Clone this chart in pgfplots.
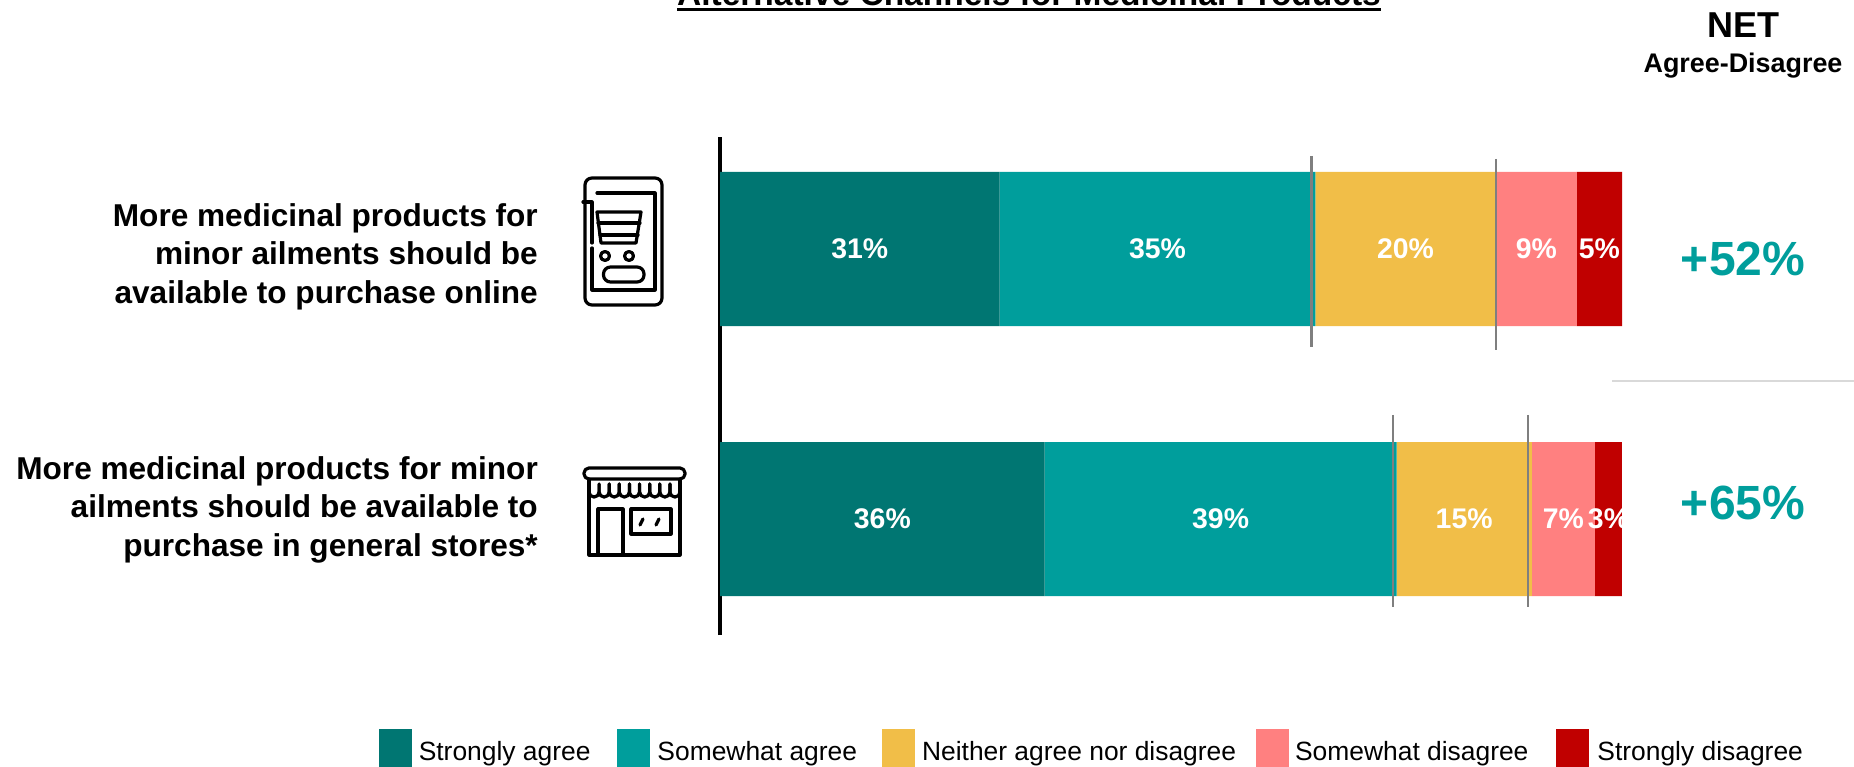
\documentclass[border=0pt]{standalone}
\usepackage{pgfplots}
\pgfplotsset{compat=1.18}
\usepackage{fontspec}
\setmainfont{Liberation Sans}
\definecolor{stronglyagree}{HTML}{007672}
\definecolor{somewhatagree}{HTML}{009E9C}
\definecolor{neither}{HTML}{F1BE48}
\definecolor{somewhatdisagree}{HTML}{FF8080}
\definecolor{stronglydisagree}{HTML}{C00000}
\definecolor{refline}{HTML}{7F7F7F}
\newcommand{\fs}[2]{\fontsize{#1}{#2}\selectfont}
\begin{document}
\begin{tikzpicture}
\path[use as bounding box] (0,0) rectangle (1854pt,766pt);
\clip (0,0) rectangle (1854pt,766pt);
\begin{axis}[
  at={(720pt,131pt)}, anchor=south west,
  scale only axis, width=902pt, height=498pt,
  xbar stacked, bar width=0.5704,
  xmin=0, xmax=100, ymin=-0.4296, ymax=1.4148,
  axis x line=none, axis y line*=left,
  axis line style={line width=3.2pt, black, -},
  xtick=\empty,
  ytick={0.035,0.972},
  yticklabels={
    {More medicinal products for minor\\ailments should be available to\\purchase in general stores*},
    {More medicinal products for\\minor ailments should be\\available to purchase online}},
  y tick label style={font=\bfseries\fs{31.6}{38.4}, align=right, inner sep=0pt, xshift=-182pt},
  major tick length=0pt,
  nodes near coords={\pgfmathprintnumber{\pgfplotspointmeta}\%},
  /pgf/number format/assume math mode=true,
  every node near coord/.append style={font=\bfseries\fs{28.4}{32}, text=white, inner sep=0pt},
  legend columns=5,
  legend image code/.code={\fill[#1] (0pt,-18pt) rectangle (33pt,23pt);},
  legend style={
    at={(axis description cs:-0.3785,-0.271)}, anchor=south west,
    draw=none, fill=none, inner sep=0pt, font=\fs{26.4}{30},
    nodes={inner sep=0pt},
    /tikz/column 1/.style={column sep=7pt},
    /tikz/column 2/.style={column sep=27pt},
    /tikz/column 3/.style={column sep=7pt},
    /tikz/column 4/.style={column sep=25pt},
    /tikz/column 5/.style={column sep=7pt},
    /tikz/column 6/.style={column sep=20pt},
    /tikz/column 7/.style={column sep=6pt},
    /tikz/column 8/.style={column sep=28pt},
    /tikz/column 9/.style={column sep=8pt},
  },
]
\addplot[draw=none, fill=stronglyagree] coordinates {(36,0) (31,1)};
\addlegendentry{Strongly agree}
\addplot[draw=none, fill=somewhatagree] coordinates {(39,0) (35,1)};
\addlegendentry{Somewhat agree}
\addplot[draw=none, fill=neither] coordinates {(15,0) (20,1)};
\addlegendentry{Neither agree nor disagree}
\addplot[draw=none, fill=somewhatdisagree] coordinates {(7,0) (9,1)};
\addlegendentry{Somewhat disagree}
\addplot[draw=none, fill=stronglydisagree] coordinates {(3,0) (5,1)};
\addlegendentry{Strongly disagree}
\end{axis}

\begin{scope}[x=1pt, y=-1pt, shift={(0pt,766pt)}]
  % rules through each bar at the agree and disagree boundaries
  \foreach \x/\a/\b in {1311.6/156/347, 1495.8/159/350, 1393/415/607, 1528/415/607}
    \draw[refline, line width=2.4pt] (\x,\a) -- (\x,\b);
  % labels past the end of the bar are cut off
  \fill[white] (1622,442) rectangle (1645,596);
  % title
  \node[font=\bfseries\fs{33.5}{38}, anchor=base] at (1029,6) {Alternative Channels for Medicinal Products};
  \draw[line width=3pt] (677,10) -- (1381,10);
  % net column
  \node[font=\bfseries\fs{36}{40}, anchor=base] at (1743,38) {NET};
  \node[font=\bfseries\fs{26.9}{30}, anchor=base] at (1743,73) {Agree-Disagree};
  \node[font=\bfseries\fs{48}{52}, text=somewhatagree, anchor=base] at (1743,276) {+52\%};
  \node[font=\bfseries\fs{48}{52}, text=somewhatagree, anchor=base] at (1743,520) {+65\%};
  \draw[line width=2pt, black!15] (1612,381) -- (1854,381);
  % phone with shopping cart
  \begin{scope}[line width=3.2pt, line cap=round, line join=round]
    \draw[rounded corners=7pt] (585,178) rectangle (662,305);
    \draw (597,193) -- (655,193) -- (655,290) -- (592,290) -- (592,248);
    \draw (583,202) -- (592,202) -- (592,243);
    \draw (597,212) -- (641,212) -- (636,243) -- (601,243) -- cycle;
    \draw (598,223) -- (640,223);
    \draw (600,235) -- (638,235);
    \draw (605,256) circle (4.5);
    \draw (629,256) circle (4.5);
    \draw[rounded corners=7pt] (603.5,267) rectangle (644,282);
  \end{scope}
  % storefront
  \begin{scope}[line width=3.2pt, line cap=round, line join=round]
    \draw[rounded corners=5pt] (584,468) rectangle (685,479);
    \draw (589,479) -- (589,555) -- (680,555) -- (680,479);
    \foreach \x in {589,599.1,609.2,619.3,629.4,639.6,649.7,659.8,669.9}
      \draw (\x,484) -- (\x,492) arc[start angle=180, end angle=0, radius=5.05] -- (\x+10.1,484);
    \draw (598,555) -- (598,509) -- (623,509) -- (623,555);
    \draw (631,509) rectangle (671,534);
    \draw (640,525) -- (643,519);
    \draw (656,525) -- (659,519);
  \end{scope}
\end{scope}
\end{tikzpicture}
\end{document}
